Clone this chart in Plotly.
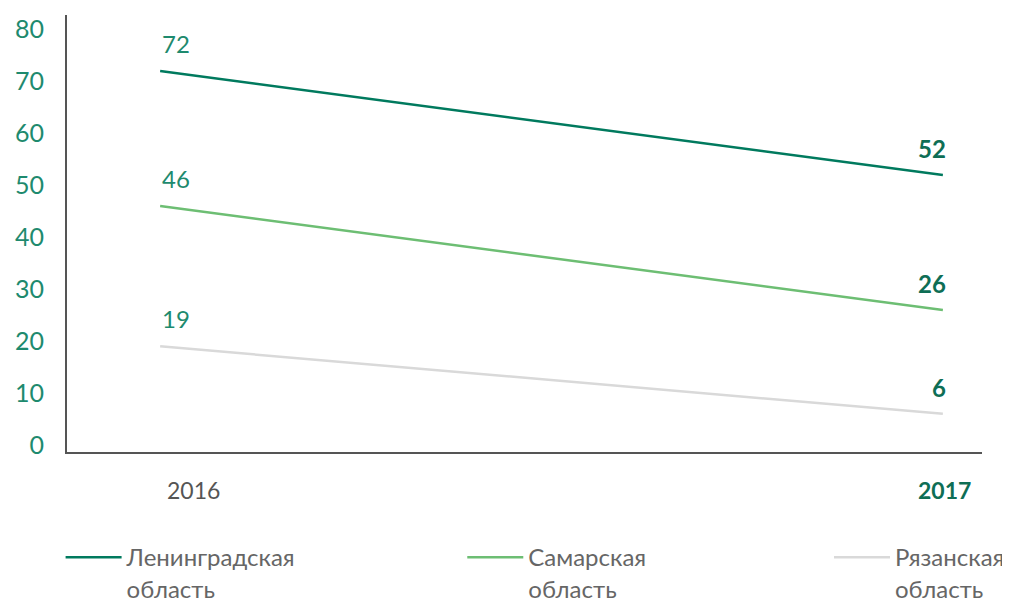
import plotly.graph_objects as go

years = ["2016", "2017"]
regions = ["Ленинградская<br>область", "Самарская<br>область", "Рязанская<br>область"]
values = {
    "Ленинградская<br>область": [72, 52],
    "Самарская<br>область": [46, 26],
    "Рязанская<br>область": [19, 6],
}
colors = ["#007A5E", "#6DBE73", "#D9D9D9"]
y_ticks = [0, 10, 20, 30, 40, 50, 60, 70, 80]

FONT = "Lato"
TEAL = "#1E8A6E"
DARK = "#0E6E55"

fig = go.Figure()
for i, name in enumerate(regions):
    fig.add_trace(go.Scatter(
        x=[0, 1], y=values[name], mode="lines", name=name,
        line=dict(color=colors[i], width=2.5),
        legend="legend" if i == 0 else f"legend{i+1}",
    ))
    v0, v1 = values[name]
    fig.add_annotation(x=0, y=v0, text=str(v0), showarrow=False,
                       xanchor="left", yanchor="bottom", xshift=0, yshift=11,
                       font=dict(family=FONT, size=24, color=TEAL))
    fig.add_annotation(x=1, y=v1, text=f"<b>{v1}</b>", showarrow=False,
                       xanchor="right", yanchor="bottom", xshift=5, yshift=10,
                       font=dict(family=FONT, size=24, color=DARK))

fig.add_annotation(x=0, y=0, yref="paper", text=years[0], showarrow=False,
                   xanchor="center", yanchor="top", xshift=33, yshift=-22,
                   font=dict(family=FONT, size=23, color="#555555"))
fig.add_annotation(x=1, y=0, yref="paper", text=f"<b>{years[1]}</b>", showarrow=False,
                   xanchor="center", yanchor="top", xshift=2, yshift=-22,
                   font=dict(family=FONT, size=23, color=DARK))

leg = dict(orientation="h", y=-0.19, yanchor="top",
           valign="top", itemwidth=56,
           font=dict(family=FONT, size=24, color="#666666"), bgcolor="rgba(0,0,0,0)")
fig.update_layout(
    legend=dict(leg, x=-0.007, xanchor="left"),
    legend2=dict(leg, x=0.432, xanchor="left"),
    legend3=dict(leg, x=1.0306, xanchor="right"),
)

fig.update_layout(
    width=1002, height=597,
    margin=dict(l=59, r=28, t=7, b=153, autoexpand=False),
    plot_bgcolor="white", paper_bgcolor="white",
    showlegend=True,
    xaxis=dict(range=[-0.119, 1.05], showgrid=False, zeroline=False, automargin=False,
               showticklabels=False, showline=True, linecolor="#555555", linewidth=2),
    yaxis=dict(range=[-1.35, 82.8], tickvals=y_ticks, showgrid=False, zeroline=False,
               automargin=False, showline=True, linecolor="#555555", linewidth=2,
               ticklabelstandoff=16,
               tickfont=dict(family=FONT, size=25, color=TEAL)),
)

fig.write_html("out.html")
